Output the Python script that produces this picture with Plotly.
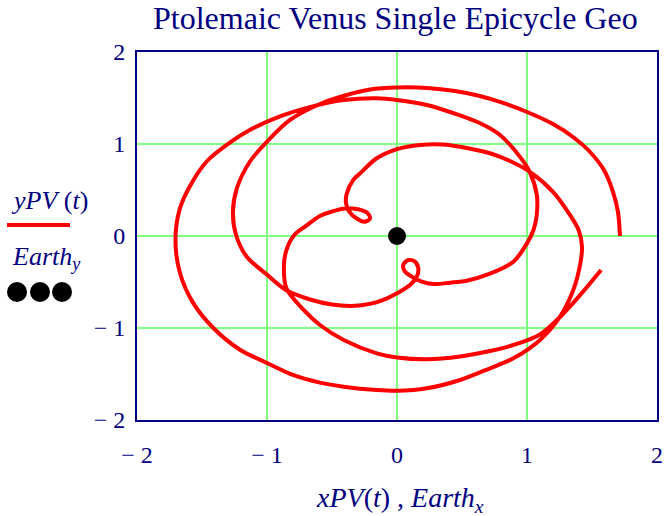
import plotly.graph_objects as go

# ---- data ----
# first pass: from the start point, round the outside, down to the lower-right loop and out again
pass1_x = [1.715, 1.70, 1.662, 1.592, 1.485, 1.354, 1.20, 1.00, 0.792, 0.638, 0.446, 0.231, 0.00, -0.208,
           -0.40, -0.592, -0.823, -1.00, -1.131, -1.231, -1.262, -1.238, -1.156, -1.00, -0.85, -0.669,
           -0.50, -0.35, -0.20, -0.08, 0.00, 0.10, 0.152, 0.164, 0.138, 0.087, 0.048, 0.062, 0.113, 0.19,
           0.28, 0.408, 0.536, 0.715, 0.895, 1.00, 1.05]
pass1_y = [0.00, 0.26, 0.478, 0.717, 0.913, 1.076, 1.217, 1.348, 1.457, 1.522, 1.576, 1.609, 1.614, 1.592,
           1.527, 1.435, 1.261, 1.025, 0.81, 0.522, 0.261, 0.011, -0.225, -0.42, -0.59, -0.69,
           -0.745, -0.76, -0.735, -0.68, -0.623, -0.533, -0.442, -0.351, -0.279, -0.261, -0.315, -0.388, -0.442, -0.497,
           -0.522, -0.507, -0.486, -0.41, -0.28, -0.08, 0.065]
# second pass: growing outward, round the big outer loop
pass2_x = [1.075, 1.075, 1.02, 0.946, 0.79, 0.64, 0.485, 0.23, 0.00, -0.156, -0.41, -0.62, -0.90, -1.156,
           -1.31, -1.464, -1.59, -1.67, -1.704, -1.669, -1.567, -1.413, -1.208, -1.00, -0.80, -0.592,
           -0.41, -0.156, 0.00, 0.23, 0.485, 0.715, 0.895, 1.10, 1.254, 1.356, 1.41, 1.423, 1.397]
pass2_y = [0.23, 0.45, 0.70, 0.86, 1.10, 1.225, 1.31, 1.424, 1.478, 1.497, 1.478, 1.42, 1.30, 1.134,
           0.99, 0.81, 0.55, 0.30, -0.043, -0.405, -0.73, -1.00, -1.236, -1.38, -1.51, -1.594,
           -1.638, -1.674, -1.682, -1.655, -1.565, -1.438, -1.33, -1.13, -0.877, -0.587, -0.30, -0.116, 0.065]
# third pass: shrinking to the upper-left loop, then out to the end point
pass3_x = [1.33, 1.20, 1.02, 0.869, 0.715, 0.485, 0.356, 0.177, 0.00, -0.156, -0.285, -0.336, -0.387, -0.392,
           -0.367, -0.31, -0.246, -0.208, -0.228, -0.30, -0.40, -0.515, -0.59, -0.70, -0.79, -0.85, -0.87,
           -0.85, -0.72, -0.59, -0.41, -0.156, 0.00, 0.23, 0.485, 0.715, 0.895, 1.10, 1.254, 1.41, 1.57]
pass3_y = [0.23, 0.48, 0.70, 0.815, 0.899, 0.97, 0.995, 0.99, 0.945, 0.845, 0.68, 0.61, 0.46, 0.355,
           0.265, 0.19, 0.155, 0.19, 0.25, 0.29, 0.30, 0.26, 0.22, 0.11, 0.01, -0.15, -0.33,
           -0.57, -0.80, -0.97, -1.13, -1.275, -1.32, -1.34, -1.31, -1.25, -1.185, -1.07, -0.88, -0.64, -0.37]

earth_x = [0.0]
earth_y = [0.0]

tick_vals = [-2, -1, 0, 1, 2]
tick_text = ["\u2212 2", "\u2212 1", "0", "1", "2"]

title_text = "Ptolemaic Venus Single Epicycle Geo"

xPV = pass1_x + pass2_x + pass3_x
yPV = pass1_y + pass2_y + pass3_y

NAVY = "#000080"
GRID = "#80FF80"
FONT = "Liberation Serif"

# plot-area geometry in pixels
L, R, T, B = 137, 657, 52, 420
W, H = 670, 516


def pxx(px):
    return (px - L) / (R - L)


def pxy(py):
    return (B - py) / (B - T)


fig = go.Figure()
fig.add_trace(go.Scatter(x=xPV, y=yPV, mode="lines",
                         line=dict(color="#FF0000", width=4, shape="spline", smoothing=0.9),
                         hoverinfo="skip", showlegend=False))
fig.add_trace(go.Scatter(x=earth_x, y=earth_y, mode="markers",
                         marker=dict(color="black", size=18),
                         hoverinfo="skip", showlegend=False))

axis_common = dict(
    range=[-2, 2], tickvals=tick_vals, ticktext=tick_text,
    showgrid=True, gridcolor=GRID, gridwidth=2, zeroline=False,
    showline=True, linecolor=NAVY, linewidth=2, mirror=True, automargin=False,
    ticks="", tickfont=dict(family=FONT, size=24, color=NAVY),
)

fig.update_layout(
    width=W, height=H, autosize=False,
    margin=dict(l=L, r=W - R, t=T, b=H - B, pad=0),
    paper_bgcolor="white", plot_bgcolor="white",
    xaxis=dict(axis_common, ticklabelstandoff=12),
    yaxis=dict(axis_common, ticklabelstandoff=5),
    showlegend=False,
)

annotations = [
    dict(text=title_text, x=pxx(395), y=pxy(18), xanchor="center", yanchor="middle",
         font=dict(family=FONT, size=32, color=NAVY)),
    dict(text="<i>xPV</i>(<i>t</i>) , <i>Earth</i><sub><i>x</i></sub>", x=pxx(400), y=pxy(499),
         xanchor="center", yanchor="middle", font=dict(family=FONT, size=28, color=NAVY)),
    dict(text="<i>yPV</i> (<i>t</i>)", x=pxx(9), y=pxy(200), xanchor="left", yanchor="middle",
         font=dict(family=FONT, size=26, color=NAVY)),
    dict(text="<i>Earth</i><sub><i>y</i></sub>", x=pxx(10), y=pxy(258), xanchor="left", yanchor="middle",
         font=dict(family=FONT, size=26, color=NAVY)),
]
for a in annotations:
    a.update(xref="paper", yref="paper", showarrow=False)
fig.update_layout(annotations=annotations)

shapes = [dict(type="line", xref="paper", yref="paper", x0=pxx(7), x1=pxx(70), y0=pxy(225), y1=pxy(225),
               line=dict(color="#FF0000", width=4))]
for cx in (17, 40, 62):
    shapes.append(dict(type="circle", xref="paper", yref="paper",
                       x0=pxx(cx - 10), x1=pxx(cx + 10), y0=pxy(302), y1=pxy(282),
                       fillcolor="black", line=dict(color="black", width=0)))
fig.update_layout(shapes=shapes)

fig.write_html("out.html", config={"displayModeBar": False},
               post_script="document.body.style.margin='0px';")
